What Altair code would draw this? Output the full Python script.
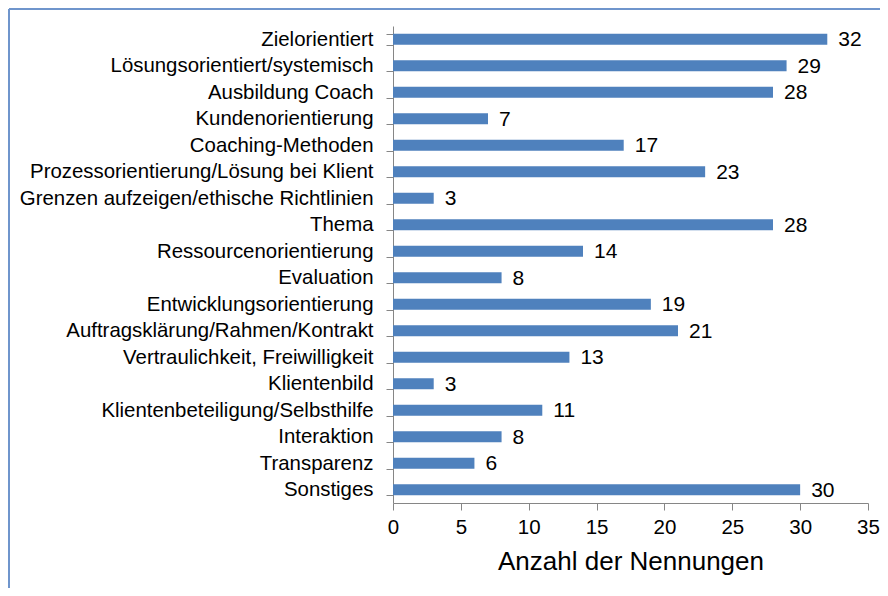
import altair as alt
import pandas as pd

categories = [
    "Zielorientiert",
    "Lösungsorientiert/systemisch",
    "Ausbildung Coach",
    "Kundenorientierung",
    "Coaching-Methoden",
    "Prozessorientierung/Lösung bei Klient",
    "Grenzen aufzeigen/ethische Richtlinien",
    "Thema",
    "Ressourcenorientierung",
    "Evaluation",
    "Entwicklungsorientierung",
    "Auftragsklärung/Rahmen/Kontrakt",
    "Vertraulichkeit, Freiwilligkeit",
    "Klientenbild",
    "Klientenbeteiligung/Selbsthilfe",
    "Interaktion",
    "Transparenz",
    "Sonstiges",
]
values = [32, 29, 28, 7, 17, 23, 3, 28, 14, 8, 19, 21, 13, 3, 11, 8, 6, 30]
x_ticks = [0, 5, 10, 15, 20, 25, 30, 35]

df = pd.DataFrame({"Kategorie": categories, "Anzahl": values})

FONT = "Liberation Sans, Arial, sans-serif"
AXIS_GRAY = "#868686"
BAR = "#4F81BD"
FRAME = "#6F95CC"

W, H = 475, 477
PAD = {"left": 385, "top": 18, "right": 12, "bottom": 85}

y_enc = alt.Y(
    "Kategorie:N",
    sort=None,
    scale=alt.Scale(paddingInner=0.58, paddingOuter=0.29),
    axis=alt.Axis(
        title=None,
        domainColor=AXIS_GRAY,
        tickColor=AXIS_GRAY,
        tickSize=7,
        tickBand="extent",
        labelPadding=13,
        labelFontSize=20.4,
        labelFont=FONT,
        labelColor="#000000",
        labelLimit=500,
        grid=False,
    ),
)

x_enc = alt.X(
    "Anzahl:Q",
    scale=alt.Scale(domain=[0, 35], nice=False),
    axis=alt.Axis(
        title="Anzahl der Nennungen",
        values=x_ticks,
        domainColor=AXIS_GRAY,
        tickColor=AXIS_GRAY,
        tickSize=7,
        labelFlush=False,
        labelPadding=7,
        labelFontSize=20.5,
        labelFont=FONT,
        labelColor="#000000",
        titleFont=FONT,
        titleFontSize=26,
        titleFontWeight="normal",
        titleColor="#000000",
        titlePadding=11,
        grid=False,
    ),
)

base = alt.Chart(df)

bars = base.mark_bar(color=BAR, size=11).encode(y=y_enc, x=x_enc)

labels = base.mark_text(
    align="left", baseline="middle", dx=11, dy=1, fontSize=21, font=FONT, color="#000000"
).encode(y=alt.Y("Kategorie:N", sort=None), x="Anzahl:Q", text="Anzahl:Q")

frame_df = pd.DataFrame({"k": [0]})
frame_top = alt.Chart(frame_df).mark_rule(color=FRAME, strokeWidth=2).encode(
    x=alt.value(-384), x2=alt.value(W + PAD["right"]), y=alt.value(-17)
)
frame_left = alt.Chart(frame_df).mark_rule(color=FRAME, strokeWidth=2).encode(
    x=alt.value(-384), y=alt.value(-17), y2=alt.value(H + PAD["bottom"])
)

chart = (
    alt.layer(bars, labels, frame_top, frame_left)
    .properties(
        width=W,
        height=H,
        padding=PAD,
        autosize=alt.AutoSizeParams(type="none"),
        background="#ffffff",
    )
    .configure_view(stroke=None)
)

chart.save("out.html", embed_options={"renderer": "svg", "actions": False})
